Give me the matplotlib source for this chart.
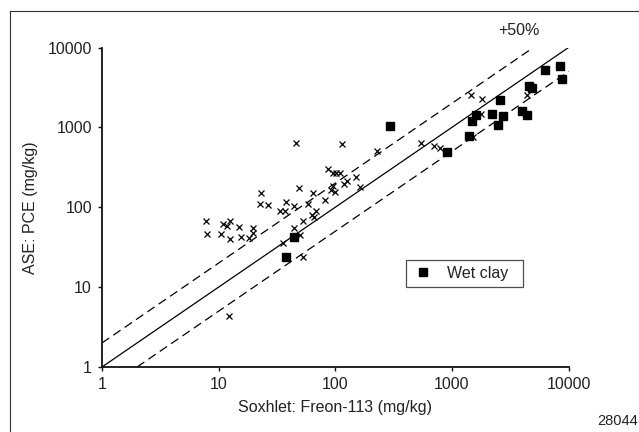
import numpy as np
import matplotlib
matplotlib.use('Agg')
import matplotlib.pyplot as plt
from matplotlib.lines import Line2D

plt.rcParams['font.family'] = ['Liberation Sans Narrow', 'Liberation Sans', 'DejaVu Sans']

# ---- data (mg/kg) ----
# other soils (x markers)
soxhlet_other = [7.8, 8.0, 10.4, 10.9, 12.5, 11.9, 12.4, 14.9, 15.6, 18.3, 19.6, 19.9,
                 12.3, 23, 22.6, 26.7, 35.5, 33.4, 37.2, 37.7, 44.4, 44.4, 46, 48.5,
                 50.2, 52.5, 52.7, 58.3, 64.3, 63, 65.5, 68, 82, 87, 96.5, 102, 109,
                 92, 95, 100, 115, 118, 126, 152, 163, 230, 545, 708, 794, 1460, 1800,
                 1520, 1780, 4420]
ase_other = [68, 46, 46, 62, 68, 58, 40, 56, 43, 41, 55, 48,
             4.4, 150, 111, 106, 36, 90, 91, 115, 103, 55, 640, 176,
             45, 24, 67, 111, 149, 80, 75, 90, 123, 300, 265, 270, 265,
             164, 184, 155, 620, 195, 212, 240, 179, 510, 635, 587, 555, 2570, 2260,
             756, 1490, 2570]

# wet clay (filled squares)
soxhlet_clay = [37.7, 44.4, 296, 917, 1410, 1480, 1620, 2200, 2480, 2580, 2750,
                3990, 4400, 4560, 4900, 6250, 8450, 8830]
ase_clay = [24, 43, 1050, 490, 770, 1210, 1410, 1470, 1080, 2220, 1385,
            1610, 1430, 3270, 3120, 5260, 5900, 4050]

# reference lines: 1:1 and factor-of-two band
line_x = [1, 10000]
band_factor = 2.0

fs = 11.5

fig = plt.figure(figsize=(6.39, 4.32), dpi=100)
ax = fig.add_axes([0.1596, 0.1505, 0.7301, 0.7395])

ax.plot(line_x, line_x, color='black', lw=0.9, solid_capstyle='butt')
ax.plot([1, line_x[1] / band_factor], [band_factor, line_x[1]],
        color='black', lw=0.9, linestyle=(0, (7, 4)))
ax.plot([band_factor, line_x[1]], [1, line_x[1] / band_factor],
        color='black', lw=0.9, linestyle=(0, (7, 4)))

ax.plot(soxhlet_other, ase_other, linestyle='none', marker='x', color='black',
        markersize=4.2, markeredgewidth=0.9, clip_on=False)
ax.plot(soxhlet_clay, ase_clay, linestyle='none', marker='s', color='black',
        markersize=5.4, clip_on=False)

ax.set_xscale('log')
ax.set_yscale('log')
ax.set_xlim(1, 10000)
ax.set_ylim(1, 10000)
ax.set_xticks([1, 10, 100, 1000, 10000])
ax.set_yticks([1, 10, 100, 1000, 10000])
ax.set_xticklabels(['1', '10', '100', '1000', '10000'])
ax.set_yticklabels(['1', '10', '100', '1000', '10000'])
ax.minorticks_off()

for side in ['top', 'right']:
    ax.spines[side].set_visible(False)
for side in ['left', 'bottom']:
    ax.spines[side].set_linewidth(1.3)
    ax.spines[side].set_color('#111111')
ax.tick_params(axis='both', which='major', direction='out', length=3.2, width=1.0,
               labelsize=fs, pad=4, colors='#111111', labelcolor='#222222')

ax.set_xlabel('Soxhlet: Freon-113 (mg/kg)', fontsize=fs, color='#222222', labelpad=6)
ax.set_ylabel('ASE: PCE (mg/kg)', fontsize=fs, color='#222222')
ax.yaxis.set_label_coords(-0.138, 0.5)

ax.text(3777, 16200, '+50%', fontsize=fs, color='#222222',
        ha='center', va='center', clip_on=False)

handle = Line2D([], [], linestyle='none', marker='s', color='black', markersize=5.4)
leg = ax.legend([handle], ['Wet clay'], loc='center',
                bbox_to_anchor=(0.6512, 0.2465, 0.2515, 0.092), mode='expand',
                borderaxespad=0, fontsize=fs, frameon=True, fancybox=False,
                handlelength=1.3, handletextpad=0.9, borderpad=0.4,
                labelcolor='#222222')
leg.get_frame().set_edgecolor('#222222')
leg.get_frame().set_linewidth(0.9)

fig.text(597 / 639, 1 - 421 / 432, '28044', fontsize=10.5, color='#222222',
         ha='left', va='center')

# outer frame (left and top edges visible)
fig.add_artist(Line2D([10 / 639, 10 / 639], [0, 1 - 11 / 432], color='#333333', lw=0.8))
fig.add_artist(Line2D([10 / 639, 1], [1 - 11 / 432, 1 - 11 / 432], color='#333333', lw=0.8))

fig.savefig('out.png', dpi=100)
